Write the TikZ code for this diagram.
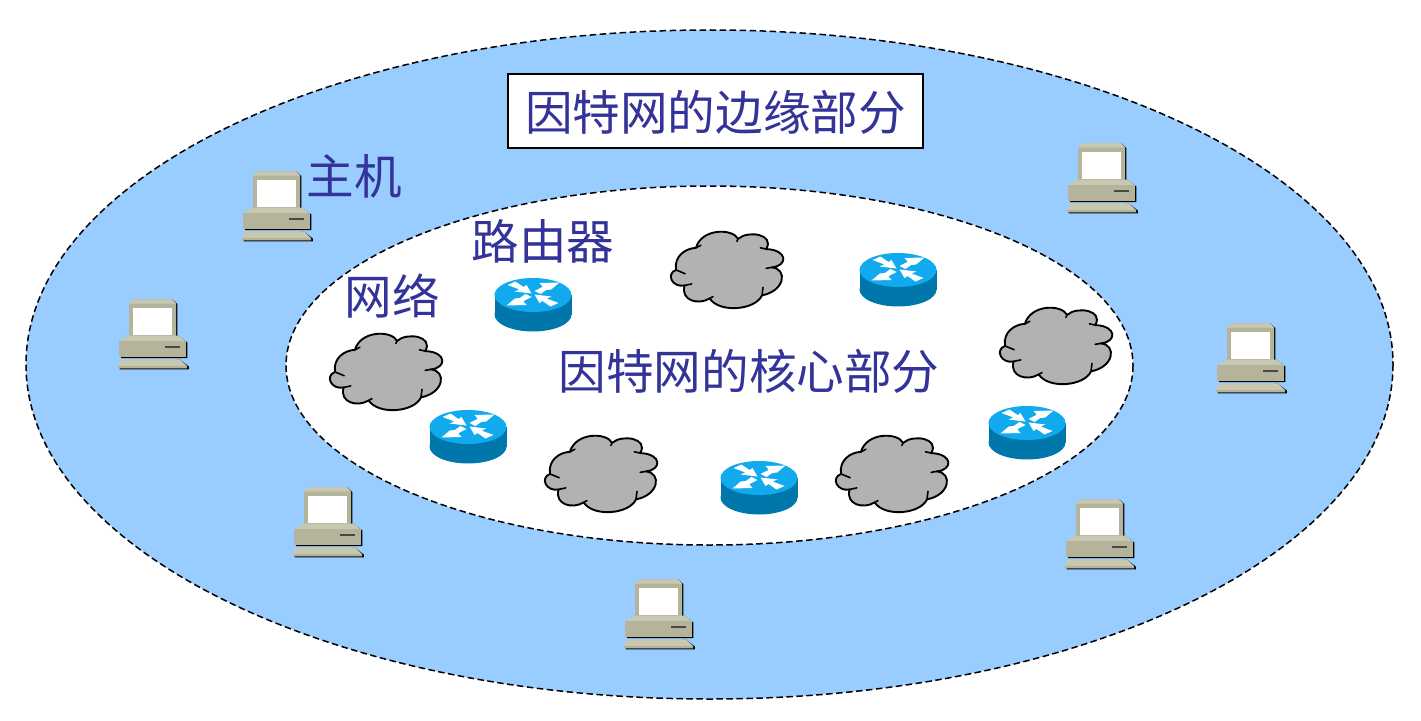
\documentclass[tikz,border=0pt]{standalone}
\usepackage{fontspec}
\setmainfont{Noto Sans CJK SC}
\definecolor{edgeblue}{HTML}{99CCFF}
\definecolor{labelblue}{HTML}{333399}
\definecolor{pcbody}{HTML}{B4B49C}
\definecolor{pclight}{HTML}{C8C8B0}
\definecolor{routertop}{HTML}{11AAEE}
\definecolor{routerside}{HTML}{0077AA}
\definecolor{cloudgrey}{HTML}{B2B2B2}
\tikzset{
  region/.style={draw=black,line width=1.5bp,dash pattern=on 6.5bp off 3.5bp},
  cnlabel/.style={text=labelblue,font=\fontsize{47.8}{50}\selectfont,inner sep=0pt,anchor=center},
  titlebox/.style={draw=black,fill=white,line width=1.6bp,minimum width=415bp,minimum height=74bp,inner sep=0pt},
  computer/.pic={
    % drop shadows on the right-hand and lower edges
    \fill[black] (53,-0.7) -- (58.4,4) -- (58.4,37) -- (53,37) -- cycle;
    \fill[black] (59,35.5) -- (68.4,42.5) -- (68.4,58.2) -- (2,58.2) -- (2,50) -- (59,40) -- cycle;
    \fill[black] (61,59.5) -- (69.8,66.5) -- (69.8,69.4) -- (0.5,69.4) -- (0.5,66) -- cycle;
    % monitor
    \fill[pcbody] (10,3.5) -- (14.3,-0.7) -- (53,-0.7) -- (57,3.5) -- (57,38.5) -- (10,38.5) -- cycle;
    \fill[pclight] (10,3.5) -- (14.3,-0.7) -- (53,-0.7) -- (57,3.5) -- cycle;
    \fill[white] (14.3,8.3) rectangle (52.7,35);
    % base unit
    \fill[pclight] (9.7,35.5) -- (59.5,35.5) -- (67,41.5) -- (0.3,41.5) -- cycle;
    \fill[pcbody] (0.3,41) rectangle (67,57);
    \fill[black!60!pcbody] (46,46.3) rectangle (61,48);
    % keyboard
    \fill[pclight] (3,59.3) -- (61,59.3) -- (68,66) -- (68,68.3) -- (-1,68.3) -- (-1,65) -- cycle;
    \fill[pcbody] (-1,65.8) rectangle (68,68.3);
  },
  router/.pic={
    \fill[routerside] (-38.5,0) rectangle (38.5,19.5);
    \fill[routerside] (0,19.5) ellipse[x radius=38.5,y radius=17];
    \fill[routertop] (0,0) ellipse[x radius=38.5,y radius=17];
    \fill[white]
      (-25.5,-10) -- (-17.5,-13.5) -- (-9.5,-8) -- (-6.5,-10) -- (-1.5,-1.5) -- (-18.5,-3.5) -- (-13.5,-5.5) -- cycle
      (1.5,-4) -- (7.5,-1) -- (13.2,-5) -- (18.2,-5.5) -- (26.5,-12.5) -- (6.5,-12) -- (9.8,-8.3) -- cycle
      (-1.5,2) -- (-7.5,-1) -- (-13.2,3) -- (-18.2,3.5) -- (-26.5,10.5) -- (-6.5,10) -- (-9.8,6.3) -- cycle
      (25.5,8) -- (17.5,11.5) -- (9.5,6) -- (6.5,8) -- (1.5,-0.5) -- (18.5,1.5) -- (13.5,3.5) -- cycle;
  },
  cloud blob/.pic={
    \begin{scope}[xscale=0.98,yscale=0.95]
    \draw[fill=cloudgrey,draw=black,line width=1.9bp,line join=round]
      (-32.7,-22.3) .. controls (-27,-43) and (4.7,-43) .. (10.3,-31.7)
      .. controls (20.3,-41) and (48,-36.7) .. (39,-21)
      .. controls (61.3,-20) and (61.3,-3.3) .. (44.7,-1.7)
      .. controls (61.3,0) and (58,23.3) .. (34.7,27.7)
      .. controls (28,43.3) and (-8.7,46.7) .. (-18.7,31)
      .. controls (-30.3,38.3) and (-48.7,33.3) .. (-44.3,17.3)
      .. controls (-57,20) and (-63.7,5) .. (-53,1)
      .. controls (-55.3,-13.3) and (-43.7,-21.7) .. (-32.7,-22.3) -- cycle;
    % short creases where the lobes meet
    \draw[black,line width=1.6bp,line cap=round]
      (-32.7,-22.3) -- (-27.7,-25)
      (10.3,-31.7) -- (9,-29)
      (39,-21) -- (33,-22.3)
      (44.7,-1.7) -- (39,-0.7)
      (34.7,27.7) -- (35.7,19.3)
      (-18.7,31) -- (-15.3,29)
      (-44.3,17.3) -- (-37,15.7)
      (-53,1) -- (-43.7,5);
    \end{scope}
  }
}
\begin{document}
\begin{tikzpicture}[x=1bp,y=-1bp]
  \useasboundingbox (0,0) rectangle (1421,720);
  \path[fill=white] (0,0) rectangle (1421,720);
  % the two nested regions
  \draw[region,fill=edgeblue] (709.5,364.5) ellipse[x radius=683.5,y radius=334.5];
  \draw[region,fill=white] (709.5,365.5) ellipse[x radius=423.5,y radius=179.5];
  % hosts on the edge
  \pic at (243,172) {computer};
  \pic at (119,300) {computer};
  \pic at (294,488) {computer};
  \pic at (625,580) {computer};
  \pic at (1066,500) {computer};
  \pic at (1217,324) {computer};
  \pic at (1068,144) {computer};
  % networks in the core
  \pic at (387,371) {cloud blob};
  \pic at (728,269) {cloud blob};
  \pic at (1057,345) {cloud blob};
  \pic at (602,473) {cloud blob};
  \pic at (893,473) {cloud blob};
  % routers in the core
  \pic at (533,295) {router};
  \pic at (898,270) {router};
  \pic at (468,427) {router};
  \pic at (759,478) {router};
  \pic at (1027,423) {router};
  % labels
  \node[titlebox] (edgetitle) at (715.5,111) {};
  \node[cnlabel] (edgetext) at (715.5,112) {因特网的边缘部分};
  \node[cnlabel] (hostlabel) at (354.5,176) {主机};
  \node[cnlabel] (routerlabel) at (543,241) {路由器};
  \node[cnlabel] (netlabel) at (392.5,296) {网络};
  \node[cnlabel] (coretext) at (749,371) {因特网的核心部分};
\end{tikzpicture}
\end{document}
